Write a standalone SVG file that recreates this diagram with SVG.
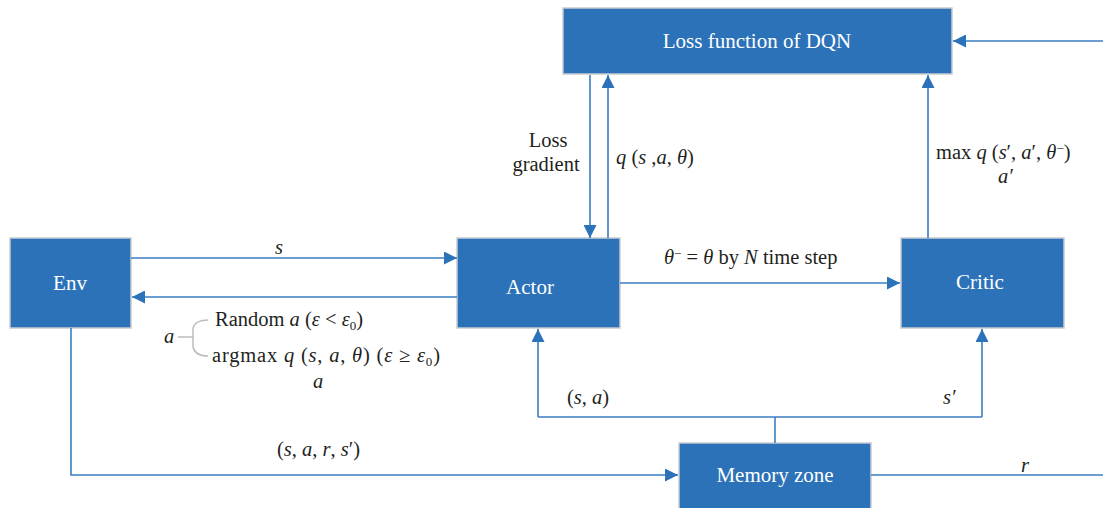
<svg xmlns="http://www.w3.org/2000/svg" width="1103" height="508" viewBox="0 0 1103 508">
<style>
.box{fill:#2b72b8;stroke:#c8ccd2;stroke-width:1.5}
.bt{font-family:"Liberation Serif",serif;font-size:21px;fill:#fff;text-anchor:middle}
.t{font-family:"Liberation Serif",serif;font-size:20.5px;fill:#231f20}
.i{font-style:italic}
.ln{fill:none;stroke:#3b7dc4;stroke-width:1.6}
</style>
<defs>
<marker id="ah" viewBox="0 0 10 10" refX="10" refY="5" markerWidth="15" markerHeight="13" markerUnits="userSpaceOnUse" orient="auto">
<path d="M0,0 L10,5 L0,10 z" fill="#2b72b8"/>
</marker>
</defs>
<g id="loss"><rect class="box" x="563" y="8" width="389" height="66"/><text class="bt" x="757" y="48">Loss function of DQN</text></g>
<g id="env"><rect class="box" x="10" y="238" width="121" height="90"/><text class="bt" x="70" y="290">Env</text></g>
<g id="actor"><rect class="box" x="457" y="238" width="163" height="90"/><text class="bt" x="530" y="294">Actor</text></g>
<g id="critic"><rect class="box" x="901" y="238" width="163" height="90"/><text class="bt" x="980" y="289">Critic</text></g>
<g id="memory"><rect class="box" x="679" y="443" width="192" height="70"/><text class="bt" x="775" y="482">Memory zone</text></g>
<g id="connectors">
<line class="ln" x1="590" y1="75" x2="590" y2="238" marker-end="url(#ah)"/>
<line class="ln" x1="608" y1="238" x2="608" y2="75" marker-end="url(#ah)"/>
<line class="ln" x1="928" y1="238" x2="928" y2="75" marker-end="url(#ah)"/>
<line class="ln" x1="1103" y1="41" x2="953" y2="41" marker-end="url(#ah)"/>
<line class="ln" x1="131" y1="258" x2="457" y2="258" marker-end="url(#ah)"/>
<line class="ln" x1="457" y1="297" x2="132" y2="297" marker-end="url(#ah)"/>
<line class="ln" x1="620" y1="283" x2="900" y2="283" marker-end="url(#ah)"/>
<polyline class="ln" points="71,328 71,475 678,475" marker-end="url(#ah)"/>
<line class="ln" x1="775" y1="443" x2="775" y2="417"/>
<polyline class="ln" points="538,417 538,329" marker-end="url(#ah)"/>
<polyline class="ln" points="982,417 982,329" marker-end="url(#ah)"/>
<line class="ln" x1="538" y1="417" x2="982" y2="417"/>
<line class="ln" x1="871" y1="475" x2="1103" y2="475"/>
<path d="M178,337 H193 M208,320 Q195,320 193,328 V347 Q195,356 208,356" fill="none" stroke="#bdbdbd" stroke-width="1.5"/>
</g>
<g id="labels">
<text class="t" x="548" y="147" text-anchor="middle">Loss</text>
<text class="t" x="546" y="171" text-anchor="middle">gradient</text>
<text class="t" x="616" y="164"><tspan class="i">q</tspan> (<tspan class="i">s</tspan> ,<tspan class="i">a</tspan>, <tspan class="i">θ</tspan>)</text>
<text class="t" x="936" y="159">max <tspan class="i">q</tspan> (<tspan class="i">s</tspan>′, <tspan class="i">a</tspan>′, <tspan class="i">θ</tspan><tspan dy="-6" font-size="13">−</tspan><tspan dy="6">)</tspan></text>
<text class="t i" x="998" y="183">a′</text>
<text class="t i" x="279" y="254" text-anchor="middle">s</text>
<text class="t" x="664" y="264"><tspan class="i">θ</tspan><tspan dy="-6" font-size="13">−</tspan><tspan dy="6"> = </tspan><tspan class="i">θ</tspan> by <tspan class="i">N</tspan> time step</text>
<text class="t i" x="164" y="343">a</text>
<text class="t" x="215" y="326">Random <tspan class="i">a</tspan> (<tspan class="i">ε</tspan> &lt; <tspan class="i">ε</tspan><tspan dy="4" font-size="13">0</tspan><tspan dy="-4">)</tspan></text>
<text class="t" x="212" y="362" textLength="228">argmax <tspan class="i">q</tspan> (<tspan class="i">s</tspan>, <tspan class="i">a</tspan>, <tspan class="i">θ</tspan>) (<tspan class="i">ε</tspan> ≥ <tspan class="i">ε</tspan><tspan dy="4" font-size="13">0</tspan><tspan dy="-4">)</tspan></text>
<text class="t i" x="318" y="388" text-anchor="middle">a</text>
<text class="t" x="567" y="404">(<tspan class="i">s</tspan>, <tspan class="i">a</tspan>)</text>
<text class="t i" x="943" y="404">s′</text>
<text class="t" x="277" y="456">(<tspan class="i">s</tspan>, <tspan class="i">a</tspan>, <tspan class="i">r</tspan>, <tspan class="i">s</tspan>′)</text>
<text class="t i" x="1021" y="472">r</text>
</g>
</svg>
